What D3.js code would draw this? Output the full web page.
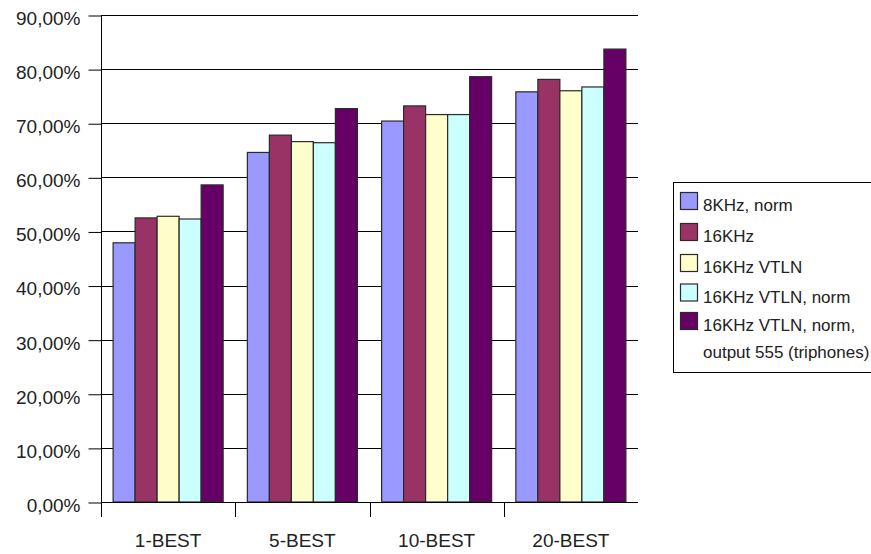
<!DOCTYPE html>
<html>
<head>
<meta charset="utf-8">
<script src="https://cdn.jsdelivr.net/npm/d3@7"></script>
<style>
  body { margin: 0; background: #fff; }
  svg { display: block; font-family: "Liberation Sans", Arial, Helvetica, sans-serif; }
</style>
</head>
<body>
<svg id="chart" width="871" height="554"></svg>
<script>
// Recognition rate per N-best list size, for each front-end configuration
const categories = ["1-BEST", "5-BEST", "10-BEST", "20-BEST"];
const seriesNames = [
  "8KHz, norm",
  "16KHz",
  "16KHz VTLN",
  "16KHz VTLN, norm",
  "16KHz VTLN, norm,\noutput 555 (triphones)"
];
const seriesColors = ["#9999FF", "#993366", "#FFFFCC", "#CCFFFF", "#660066"];
const values8kNorm      = [47.9, 64.6, 70.4, 75.8];
const values16k         = [52.5, 67.8, 73.2, 78.1];
const values16kVtln     = [52.8, 66.6, 71.6, 76.0];
const values16kVtlnNorm = [52.3, 66.4, 71.6, 76.7];
const values16kTriph    = [58.6, 72.7, 78.6, 83.7];
const yTicks = [0, 10, 20, 30, 40, 50, 60, 70, 80, 90];

const seriesValues = [values8kNorm, values16k, values16kVtln, values16kVtlnNorm, values16kTriph];

const svg = d3.select("#chart");
const plotLeft = 101, plotRight = 638, plotTop = 15, plotBottom = 502;

const y = d3.scaleLinear().domain([0, 90]).range([plotBottom, plotTop]);
const x0 = d3.scaleBand().domain(categories).range([plotLeft, plotRight]).padding(0);
const x1 = d3.scaleBand().domain(d3.range(seriesNames.length))
  .range([0, x0.bandwidth()]).paddingInner(0).paddingOuter(0.55);

const fmt = v => d3.format(".2f")(v).replace(".", ",") + "%";

// horizontal gridlines
svg.append("g")
  .selectAll("line")
  .data(yTicks.filter(t => t > 0))
  .join("line")
  .attr("x1", plotLeft).attr("x2", plotRight)
  .attr("y1", d => Math.round(y(d)) + 0.5).attr("y2", d => Math.round(y(d)) + 0.5)
  .attr("stroke", "#000").attr("stroke-width", 1);

// bars
const groups = svg.append("g")
  .selectAll("g")
  .data(categories)
  .join("g")
  .attr("transform", d => `translate(${x0(d)},0)`);

groups.selectAll("rect")
  .data((c, ci) => seriesValues.map((vals, si) => ({ si, v: vals[ci] })))
  .join("rect")
  .attr("x", d => x1(d.si))
  .attr("width", x1.bandwidth())
  .attr("y", d => y(d.v))
  .attr("height", d => y(0) - y(d.v))
  .attr("fill", d => seriesColors[d.si])
  .attr("stroke", "#2a2a2a")
  .attr("stroke-width", 1.2);

// y axis
const yAxis = d3.axisLeft(y).tickValues(yTicks).tickFormat(fmt).tickSize(13).tickPadding(8);
const gy = svg.append("g").attr("transform", `translate(${plotLeft + 0.5},0.5)`).call(yAxis);
gy.select(".domain").remove();
gy.selectAll(".tick line").attr("stroke", "#000");
gy.selectAll(".tick text").attr("font-size", 19).attr("fill", "#222").attr("dy", "0.47em")
  .attr("font-family", "Liberation Sans, Arial, sans-serif");
svg.append("line").attr("x1", plotLeft + 0.5).attr("x2", plotLeft + 0.5)
  .attr("y1", plotTop).attr("y2", plotBottom + 15)
  .attr("stroke", "#000");

// x axis with tick marks at category boundaries
svg.append("line").attr("x1", plotLeft).attr("x2", plotRight)
  .attr("y1", plotBottom + 0.5).attr("y2", plotBottom + 0.5)
  .attr("stroke", "#000");
svg.append("g").selectAll("line")
  .data(categories)
  .join("line")
  .attr("x1", d => Math.round(x0(d)) + 0.5).attr("x2", d => Math.round(x0(d)) + 0.5)
  .attr("y1", plotBottom).attr("y2", plotBottom + 15)
  .attr("stroke", "#000");
svg.append("g").selectAll("text")
  .data(categories)
  .join("text")
  .attr("x", d => x0(d) + x0.bandwidth() / 2)
  .attr("y", 547)
  .attr("text-anchor", "middle")
  .attr("font-size", 19)
  .attr("fill", "#222")
  .text(d => d);

// legend
const legend = svg.append("g");
legend.append("rect")
  .attr("x", 673.5).attr("y", 182.5).attr("width", 210).attr("height", 190)
  .attr("fill", "#fff").attr("stroke", "#000");
const baselines = [211, 242, 273, 302.5, 331];
seriesNames.forEach((name, i) => {
  legend.append("rect")
    .attr("x", 680.5).attr("y", baselines[i] - 18.5).attr("width", 17).attr("height", 17)
    .attr("fill", seriesColors[i]).attr("stroke", "#2a2a2a").attr("stroke-width", 1.2);
  const lines = name.split("\n");
  lines.forEach((ln, k) => {
    legend.append("text")
      .attr("x", 703).attr("y", baselines[i] + k * 27)
      .attr("font-size", 17)
      .attr("fill", "#222")
      .text(ln);
  });
});
</script>
</body>
</html>
